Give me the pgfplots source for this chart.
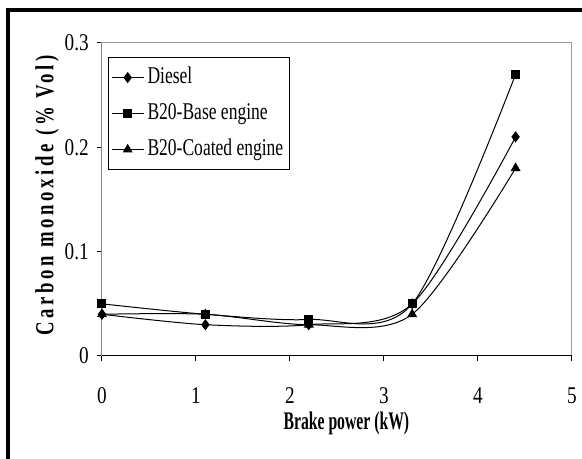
\documentclass[border=0pt]{standalone}
\usepackage{fontspec}
\setmainfont{Liberation Serif}
\newfontfamily\tickfont{Liberation Serif}[FakeStretch=0.8]
\newfontfamily\legfont{Liberation Serif}[FakeStretch=0.73]
\newfontfamily\labfont{Liberation Serif}[FakeStretch=0.62]
\newfontfamily\ylabfont{Liberation Serif}[FakeStretch=0.72,LetterSpace=14]
\usepackage{pgfplots}
\pgfplotsset{compat=1.18}

\begin{document}
\begin{tikzpicture}
\begin{axis}[
    scale only axis,
    width=352.5pt, height=234.75pt,
    xmin=0, xmax=5, ymin=0, ymax=0.3,
    xtick={0,1,2,3,4,5},
    ytick={0,0.1,0.2,0.3},
    yticklabels={0,0.1,0.2,0.3},
    tick align=outside,
    xtick pos=bottom, ytick pos=left,
    major tick length=3.75pt,
    tick style={black, line width=0.75pt},
    axis line style={draw=gray!80, line width=0.75pt},
    /pgf/number format/assume math mode=true,
    ticklabel style={font=\tickfont\fontsize{18}{20}\selectfont, inner sep=0pt},
    xticklabel style={anchor=north},
    xticklabel shift=20pt,
    yticklabel style={anchor=east},
    yticklabel shift=6pt,
    xlabel={\labfont\bfseries\fontsize{19}{21}\selectfont Brake power (kW)},
    xlabel style={at={(axis description cs:0.52,-0.216)}, anchor=center},
    ylabel={\ylabfont\bfseries\fontsize{19.5}{21}\selectfont Carbon monoxide (\% Vol)},
    ylabel style={at={(axis description cs:-0.117,0.514)}, anchor=center},
    legend style={
        at={(axis description cs:0.0128,0.955)},
        anchor=north west,
        draw=black, line width=0.75pt,
        font=\legfont\fontsize{18}{20}\selectfont,
        inner xsep=2pt, inner ysep=4.5pt,
        row sep=6pt,
        nodes={inner ysep=2pt, inner xsep=2.5pt, text height=13pt, text depth=4pt},
    },
    legend cell align=left,
    legend image code/.code={
        \draw[mark repeat=2, mark phase=2, #1]
            plot coordinates {(0pt,0pt) (12pt,0pt) (24pt,0pt)};
    },
    every axis plot/.append style={black, line width=0.75pt, smooth, tension=0.5},
]
\addplot[mark=diamond*, mark size=3.6pt] coordinates {
    (0,0.04) (1.1,0.03) (2.2,0.03) (3.3,0.05) (4.4,0.21)};
\addplot[mark=square*, mark size=3pt] coordinates {
    (0,0.05) (1.1,0.04) (2.2,0.035) (3.3,0.05) (4.4,0.27)};
\addplot[mark=triangle*, mark size=3.6pt] coordinates {
    (0,0.04) (1.1,0.04) (2.2,0.03) (3.3,0.04) (4.4,0.18)};
\legend{Diesel, B20-Base engine, B20-Coated engine}
\draw[black, line width=0.75pt] (rel axis cs:0,1) -- (rel axis cs:0,0) -- (rel axis cs:1,0);
\coordinate (bl) at (rel axis cs:0,0);
\end{axis}
\pgfresetboundingbox
\begin{scope}[shift={(bl)}, x=0.75pt, y=0.75pt]
\path[use as bounding box] (-102,-103) rectangle (480,356);
\draw[line width=2.4pt] (482,346) -- (-94,346) -- (-94,-106);
\end{scope}
\end{tikzpicture}
\end{document}
